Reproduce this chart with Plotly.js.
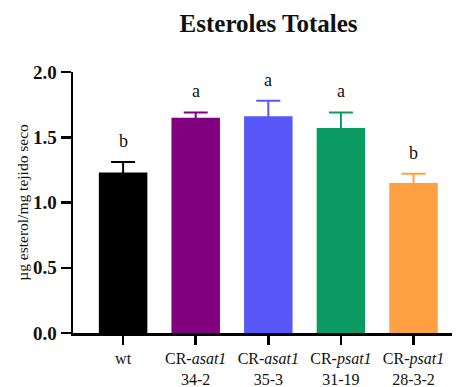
<!DOCTYPE html>
<html>
<head>
<meta charset="utf-8">
<script src="https://cdn.plot.ly/plotly-3.0.1.min.js"></script>
<style>
  html, body { margin: 0; padding: 0; background: #ffffff; }
  #chart { width: 456px; height: 387px; }
</style>
</head>
<body>
<div id="chart"></div>
<script>
// Total sterol content per line (mean and SD, µg sterol / mg dry tissue)
const lineLabels = [
  "wt",
  "CR-<i>asat1</i><br>34-2",
  "CR-<i>asat1</i><br>35-3",
  "CR-<i>psat1</i><br>31-19",
  "CR-<i>psat1</i><br>28-3-2"
];
const meanValues = [1.23, 1.65, 1.66, 1.57, 1.15];
const sdValues = [0.08, 0.04, 0.12, 0.12, 0.07];
const groupLetters = ["b", "a", "a", "a", "b"];
const barColors = ["#000000", "#800080", "#5858f9", "#0c9a63", "#ffa142"];

const serif = "'Liberation Serif', 'Times New Roman', serif";

// One trace per line so each error bar takes its bar's colour;
// the lower half of each symmetric SD bar falls inside the bar itself.
const traces = lineLabels.map((lab, i) => ({
  type: "bar",
  x: [lab],
  y: [meanValues[i]],
  width: 0.668,
  marker: { color: barColors[i], line: { width: 0 } },
  error_y: {
    type: "data",
    symmetric: true,
    array: [sdValues[i]],
    color: barColors[i],
    thickness: 2,
    width: 12
  },
  showlegend: false,
  hoverinfo: "x+y"
}));

const letterNotes = lineLabels.map((lab, i) => ({
  x: lab,
  y: meanValues[i] + sdValues[i],
  xref: "x",
  yref: "y",
  text: groupLetters[i],
  showarrow: false,
  yanchor: "bottom",
  yshift: 9,
  font: { family: serif, size: 18, color: "#111111" }
}));

const layout = {
  width: 456,
  height: 387,
  margin: { l: 73, r: 4, t: 72, b: 54 },
  paper_bgcolor: "#ffffff",
  plot_bgcolor: "#ffffff",
  barmode: "overlay",
  title: {
    text: "<b>Esteroles Totales</b>",
    font: { family: serif, size: 25, color: "#111111" },
    x: 0.589,
    xref: "container",
    xanchor: "center",
    y: 0.94,
    yref: "container",
    yanchor: "middle"
  },
  xaxis: {
    type: "category",
    range: [-0.69, 4.53],
    showline: true,
    linecolor: "#000000",
    linewidth: 2.5,
    ticks: "outside",
    ticklen: 9,
    tickwidth: 2.5,
    tickcolor: "#000000",
    showgrid: false,
    zeroline: false,
    tickfont: { family: serif, size: 16, color: "#111111" },
    fixedrange: true
  },
  yaxis: {
    range: [0, 2],
    tickvals: [0, 0.5, 1, 1.5, 2],
    ticktext: ["0.0", "0.5", "1.0", "1.5", "2.0"],
    showline: true,
    linecolor: "#000000",
    linewidth: 2.5,
    ticks: "outside",
    ticklen: 10,
    tickwidth: 2.5,
    tickcolor: "#000000",
    showgrid: false,
    zeroline: false,
    tickfont: { family: serif, size: 19, color: "#111111", weight: "bold" },
    title: {
      text: "µg esterol/mg tejido seco",
      standoff: 1,
      font: { family: serif, size: 15.5, color: "#111111" }
    },
    fixedrange: true
  },
  annotations: letterNotes
};

Plotly.newPlot("chart", traces, layout, { displayModeBar: false, staticPlot: true });
</script>
</body>
</html>
